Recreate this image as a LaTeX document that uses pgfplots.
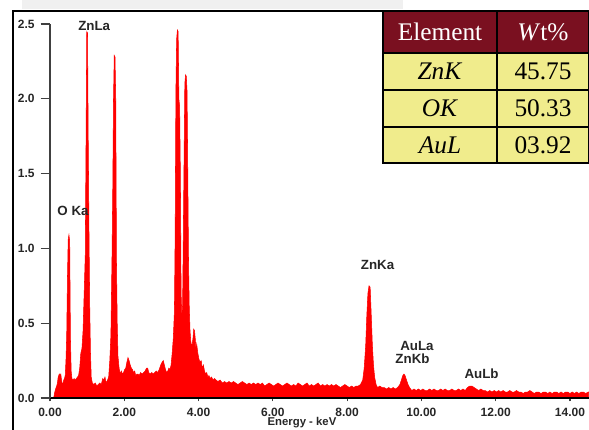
\documentclass[border=0pt]{standalone}
\usepackage{fontspec}
\setmainfont{Liberation Serif}
\setsansfont{Liberation Sans}
\usepackage{pgfplots}
\pgfplotsset{compat=1.18}
\definecolor{hdrred}{RGB}{122,16,32}
\definecolor{tabyel}{RGB}{240,236,140}
\definecolor{specred}{RGB}{255,0,0}
\begin{document}
\begin{tikzpicture}
\useasboundingbox (0,0) rectangle (441.75pt,321.75pt);
\begin{scope}[x=0.75pt,y=0.75pt]
\fill[black!6] (22,420) rectangle (403,429);
\end{scope}
\begin{axis}[
  at={(37.5pt,23.25pt)}, anchor=south west,
  scale only axis, width=403.9pt, height=280.5pt,
  xmin=0, xmax=14.5, ymin=0, ymax=2.5,
  axis lines=left, axis line style={-},
  x axis line style={line width=1.8pt, black},
  y axis line style={line width=1.1pt, black!75},
  xtick={0,2,4,6,8,10,12,14},
  xticklabels={0.00,2.00,4.00,6.00,8.00,10.00,12.00,14.00},
  ytick={0,0.5,1,1.5,2,2.5},
  yticklabels={0.0,0.5,1.0,1.5,2.0,2.5},
  tick align=outside, major tick length=7pt,
  xtick style={/pgfplots/major tick length=2.5pt},
  tick style={black!75, line width=0.9pt},
  tick label style={font=\fontsize{9}{10}\selectfont\sffamily\bfseries, text=black!85},
  xticklabel style={yshift=3pt},
  yticklabel style={xshift=-1pt},
  clip=false, axis on top,
]
\addplot[draw=specred, fill=specred, line width=0.4pt] coordinates {
(0.10,0.00)(0.12,0.03)(0.15,0.06)(0.18,0.08)(0.20,0.10)(0.22,0.14)(0.25,0.16)(0.27,0.15)(0.29,0.16)(0.31,0.12)
(0.33,0.09)(0.35,0.10)(0.37,0.12)(0.39,0.13)(0.41,0.15)(0.43,0.25)(0.45,0.42)(0.47,0.80)(0.49,1.06)(0.51,1.09)
(0.53,1.05)(0.55,0.40)(0.57,0.18)(0.59,0.13)(0.62,0.12)(0.65,0.13)(0.68,0.12)(0.71,0.13)(0.74,0.14)(0.77,0.15)
(0.80,0.20)(0.83,0.30)(0.86,0.33)(0.89,0.45)(0.92,0.70)(0.95,0.96)(0.97,1.70)(0.99,2.45)(1.01,2.44)(1.03,1.70)
(1.05,1.10)(1.07,0.60)(1.09,0.30)(1.11,0.14)(1.14,0.10)(1.18,0.09)(1.22,0.10)(1.26,0.08)(1.30,0.09)(1.34,0.10)
(1.38,0.09)(1.42,0.13)(1.45,0.12)(1.48,0.14)(1.51,0.10)(1.55,0.12)(1.58,0.14)(1.61,0.25)(1.64,0.42)(1.67,0.95)
(1.69,1.40)(1.71,2.00)(1.73,2.29)(1.75,2.28)(1.77,2.00)(1.79,0.90)(1.81,0.50)(1.83,0.28)(1.86,0.20)(1.89,0.16)
(1.92,0.18)(1.95,0.16)(1.98,0.17)(2.01,0.19)(2.04,0.20)(2.07,0.24)(2.10,0.27)(2.13,0.25)(2.16,0.22)(2.19,0.20)
(2.22,0.19)(2.25,0.17)(2.28,0.18)(2.31,0.15)(2.34,0.16)(2.37,0.16)(2.40,0.15)(2.44,0.17)(2.48,0.16)(2.52,0.17)
(2.56,0.18)(2.60,0.20)(2.63,0.20)(2.66,0.17)(2.70,0.16)(2.74,0.17)(2.78,0.16)(2.82,0.17)(2.86,0.18)(2.90,0.17)
(2.94,0.19)(2.98,0.22)(3.02,0.24)(3.05,0.25)(3.08,0.22)(3.11,0.19)(3.14,0.17)(3.17,0.18)(3.20,0.20)(3.23,0.19)
(3.26,0.22)(3.29,0.30)(3.32,0.40)(3.35,0.58)(3.37,1.10)(3.39,2.05)(3.41,2.40)(3.43,2.46)(3.45,2.45)(3.47,2.00)
(3.49,1.95)(3.51,1.50)(3.53,0.70)(3.55,0.55)(3.57,0.62)(3.59,1.10)(3.61,1.60)(3.63,2.10)(3.65,2.16)(3.67,2.15)
(3.69,2.05)(3.71,1.50)(3.73,0.90)(3.75,0.60)(3.77,0.45)(3.79,0.38)(3.81,0.35)(3.83,0.36)(3.85,0.40)(3.87,0.46)
(3.89,0.45)(3.91,0.40)(3.93,0.32)(3.95,0.36)(3.98,0.30)(4.01,0.26)(4.04,0.24)(4.07,0.25)(4.10,0.20)(4.13,0.22)
(4.16,0.18)(4.19,0.16)(4.22,0.17)(4.25,0.14)(4.28,0.15)(4.31,0.13)(4.35,0.14)(4.39,0.12)(4.43,0.13)(4.47,0.12)
(4.52,0.11)(4.58,0.12)(4.64,0.10)(4.70,0.11)(4.76,0.10)(4.82,0.11)(4.88,0.10)(4.94,0.11)(5.00,0.10)(5.06,0.09)
(5.12,0.10)(5.18,0.11)(5.24,0.10)(5.30,0.09)(5.36,0.10)(5.42,0.09)(5.48,0.10)(5.54,0.09)(5.60,0.10)(5.66,0.09)
(5.72,0.10)(5.78,0.08)(5.84,0.09)(5.90,0.10)(5.96,0.09)(6.02,0.08)(6.08,0.09)(6.14,0.10)(6.20,0.09)(6.26,0.08)
(6.32,0.09)(6.38,0.10)(6.44,0.09)(6.50,0.08)(6.56,0.09)(6.62,0.08)(6.68,0.10)(6.74,0.09)(6.80,0.08)(6.86,0.09)
(6.92,0.10)(6.98,0.08)(7.04,0.09)(7.10,0.08)(7.16,0.09)(7.22,0.10)(7.28,0.08)(7.34,0.09)(7.40,0.08)(7.46,0.09)
(7.52,0.08)(7.58,0.09)(7.64,0.08)(7.70,0.09)(7.76,0.08)(7.82,0.07)(7.88,0.08)(7.94,0.09)(8.00,0.08)(8.06,0.07)
(8.12,0.08)(8.18,0.07)(8.24,0.08)(8.30,0.08)(8.36,0.09)(8.42,0.12)(8.46,0.20)(8.50,0.35)(8.53,0.55)(8.56,0.70)
(8.59,0.75)(8.62,0.74)(8.65,0.55)(8.68,0.35)(8.71,0.22)(8.74,0.14)(8.78,0.09)(8.82,0.07)(8.88,0.08)(8.94,0.07)
(9.00,0.07)(9.06,0.06)(9.12,0.07)(9.18,0.06)(9.24,0.07)(9.30,0.06)(9.36,0.07)(9.42,0.09)(9.46,0.12)(9.50,0.15)
(9.53,0.16)(9.56,0.15)(9.60,0.12)(9.64,0.09)(9.68,0.07)(9.74,0.05)(9.80,0.06)(9.86,0.05)(9.92,0.06)(9.98,0.05)
(10.04,0.06)(10.10,0.05)(10.16,0.05)(10.22,0.06)(10.28,0.05)(10.34,0.06)(10.40,0.05)(10.46,0.05)(10.52,0.06)(10.58,0.05)
(10.64,0.06)(10.70,0.05)(10.76,0.05)(10.82,0.06)(10.88,0.05)(10.94,0.05)(11.00,0.06)(11.06,0.05)(11.12,0.06)(11.18,0.05)
(11.24,0.07)(11.30,0.08)(11.36,0.08)(11.42,0.07)(11.48,0.06)(11.54,0.05)(11.60,0.06)(11.66,0.05)(11.72,0.05)(11.78,0.04)
(11.84,0.05)(11.90,0.04)(11.96,0.05)(12.02,0.04)(12.08,0.05)(12.14,0.04)(12.20,0.05)(12.26,0.04)(12.32,0.04)(12.38,0.05)
(12.44,0.04)(12.50,0.04)(12.56,0.05)(12.62,0.04)(12.68,0.04)(12.74,0.03)(12.80,0.04)(12.86,0.04)(12.92,0.05)(12.98,0.04)
(13.04,0.03)(13.10,0.04)(13.16,0.04)(13.22,0.03)(13.28,0.04)(13.34,0.04)(13.40,0.03)(13.46,0.04)(13.52,0.03)(13.58,0.04)
(13.64,0.04)(13.70,0.03)(13.76,0.04)(13.82,0.03)(13.88,0.04)(13.94,0.04)(14.00,0.03)(14.06,0.04)(14.12,0.03)(14.18,0.04)
(14.24,0.03)(14.30,0.04)(14.36,0.04)(14.42,0.03)(14.50,0.04)
} \closedcycle;
\begin{scope}[every node/.style={font=\fontsize{10}{11}\selectfont\sffamily\bfseries, text=black!85, inner sep=0pt}]
\node at (axis cs:0.62,1.25) {O Ka};
\node at (axis cs:1.19,2.49) {ZnLa};
\node at (axis cs:8.82,0.89) {ZnKa};
\node at (axis cs:9.88,0.35) {AuLa};
\node at (axis cs:9.76,0.26) {ZnKb};
\node at (axis cs:11.62,0.16) {AuLb};
\end{scope}
\end{axis}
\begin{scope}[x=0.75pt,y=0.75pt]
% outer frame
\draw[black, line width=1.5pt] (13,-5) -- (13,418) -- (600,418);
% x-axis label
\node[anchor=south, inner sep=0pt, font=\fontsize{8.5}{9}\selectfont\sffamily\bfseries, text=black!85] at (302,0.5) {Energy - keV};
% table
\fill[hdrred] (383,418) rectangle (589,376);
\fill[tabyel] (383,376) rectangle (589,266);
\draw[black, line width=1.1pt] (383,418) rectangle (588.5,266);
\draw[black, line width=1.1pt] (383,376) -- (588.5,376) (383,339) -- (588.5,339) (383,302) -- (588.5,302) (497,418) -- (497,266);
\begin{scope}[every node/.style={font=\fontsize{19}{21}\selectfont, inner sep=0pt}]
\node[text=white] at (440,397) {Element};
\node[text=white] at (543,397) {\textit{W}t\%};
\node at (440,357.5) {\textit{ZnK}};
\node at (543,357.5) {45.75};
\node at (440,320.5) {\textit{OK}};
\node at (543,320.5) {50.33};
\node at (440,284) {\textit{AuL}};
\node at (543,284) {03.92};
\end{scope}
\end{scope}
\end{tikzpicture}
\end{document}
